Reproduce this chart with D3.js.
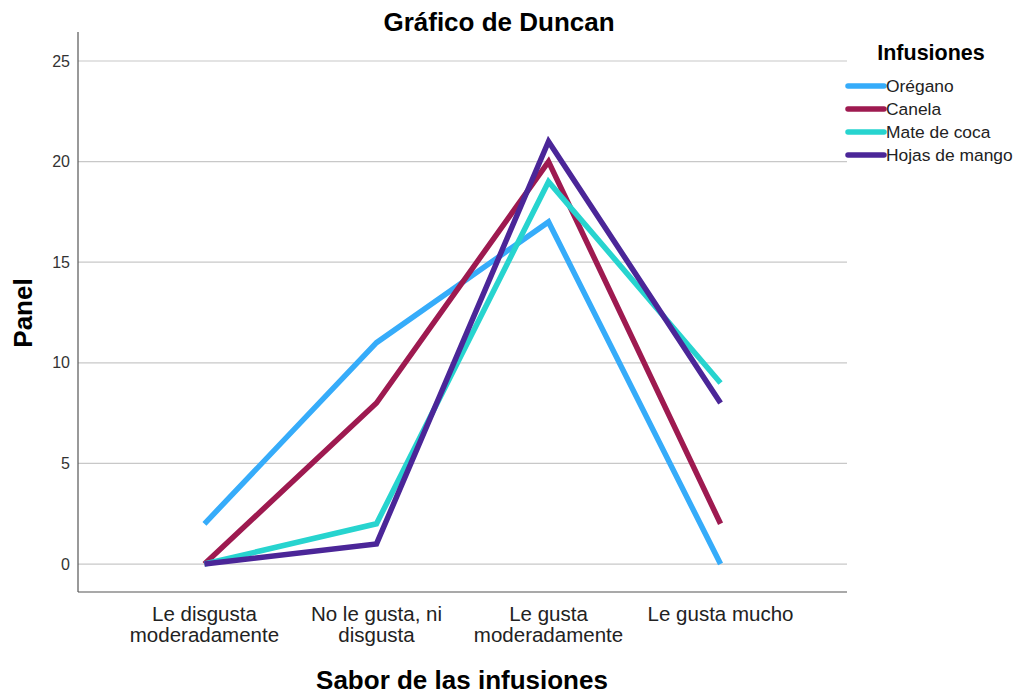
<!DOCTYPE html>
<html><head><meta charset="utf-8">
<script src="https://cdn.jsdelivr.net/npm/d3@7"></script>
<style>body{margin:0;background:#fff}svg{display:block}</style>
</head><body>
<script>
const categories = [["Le disgusta","moderadamente"],["No le gusta, ni","disgusta"],["Le gusta","moderadamente"],["Le gusta mucho"]];
const seriesNames = ["Orégano","Canela","Mate de coca","Hojas de mango"];
const oregano = [2, 11, 17, 0];
const canela = [0, 8, 20, 2];
const mate = [0, 2, 19, 9];
const hojas = [0, 1, 21, 8];
const yTicks = [0,5,10,15,20,25];
const colors = ["#36acfa","#9e1a50","#27d4cf","#4b2698"];
const series = [oregano, canela, mate, hojas];

const W=1018,H=697;
const F="Liberation Sans, Arial, sans-serif";
const svg=d3.select("body").append("svg").attr("width",W).attr("height",H);
const L=78,R=847,T=32,B=592;
const x=d3.scalePoint().domain(d3.range(categories.length)).range([L,R]).padding(0.735);
const y=d3.scaleLinear().domain([-1.39,26.44]).range([B,T]);

// gridlines
svg.append("g").selectAll("line").data(yTicks).join("line")
 .attr("x1",L).attr("x2",R).attr("y1",d=>y(d)).attr("y2",d=>y(d))
 .attr("stroke","#c8c8c8").attr("stroke-width",1.2);

// y axis
const ya=svg.append("g").attr("transform",`translate(${L},0)`).call(d3.axisLeft(y).tickValues(yTicks).tickSize(0).tickPadding(8));
ya.select(".domain").remove();
ya.selectAll("text").attr("font-family",F).attr("font-size",16).attr("fill","#333");
svg.append("line").attr("x1",L).attr("x2",L).attr("y1",T).attr("y2",B).attr("stroke","#555").attr("stroke-width",1.2);

// x axis
svg.append("line").attr("x1",L).attr("x2",R).attr("y1",B).attr("y2",B).attr("stroke","#555").attr("stroke-width",1.2);
const xa=svg.append("g").attr("transform",`translate(0,${B})`).call(d3.axisBottom(x).tickSize(0).tickFormat(""));
xa.select(".domain").remove();
categories.forEach((c,i)=>{
  const t=svg.append("text").attr("x",x(i)).attr("y",621).attr("text-anchor","middle")
   .attr("font-family",F).attr("font-size",20.5).attr("fill","#222");
  c.forEach((ln,j)=>t.append("tspan").attr("x",x(i)).attr("dy",j===0?0:21).text(ln));
});

// lines
const line=d3.line().x((d,i)=>x(i)).y(d=>y(d));
series.forEach((s,k)=>{
  svg.append("path").datum(s).attr("d",line).attr("fill","none")
   .attr("stroke",colors[k]).attr("stroke-width",5.5).attr("stroke-linejoin","miter").attr("stroke-linecap","butt");
});

// titles
svg.append("text").attr("x",499).attr("y",31).attr("text-anchor","middle")
 .attr("font-family",F).attr("font-weight","bold").attr("font-size",26).attr("fill","#000").text("Gráfico de Duncan");
svg.append("text").attr("transform","translate(32,313) rotate(-90)").attr("text-anchor","middle")
 .attr("font-family",F).attr("font-weight","bold").attr("font-size",26).attr("fill","#000").text("Panel");
svg.append("text").attr("x",462).attr("y",689).attr("text-anchor","middle")
 .attr("font-family",F).attr("font-weight","bold").attr("font-size",26).attr("fill","#000").text("Sabor de las infusiones");

// legend
svg.append("text").attr("x",931).attr("y",60).attr("text-anchor","middle")
 .attr("font-family",F).attr("font-weight","bold").attr("font-size",21.5).attr("fill","#000").text("Infusiones");
const lg=svg.append("g").selectAll("g").data(seriesNames).join("g").attr("transform",(d,i)=>`translate(0,${86+i*23})`);
lg.append("line").attr("x1",848).attr("x2",884).attr("y1",0).attr("y2",0).attr("stroke",(d,i)=>colors[i]).attr("stroke-width",5.5).attr("stroke-linecap","round");
lg.append("text").attr("x",886).attr("y",6).attr("font-family",F).attr("font-size",17.4).attr("fill","#222").text(d=>d);
</script>
</body></html>
